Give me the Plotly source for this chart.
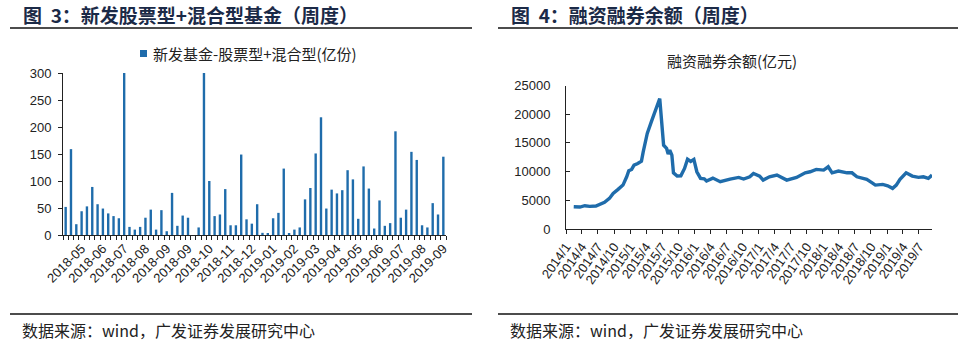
import plotly.graph_objects as go

W, H = 969, 347
BLUE = "#1F6CAB"
NAVY = "#1B2A47"
CJK = "Noto Sans CJK SC"
LAT = "Liberation Sans, Arial, sans-serif"

# ---- weekly new equity + hybrid fund issuance (亿份) ----
fund_values = [52, 159, 20, 44, 53, 89, 57, 49, 40, 35, 31, 300,
               15, 10, 15, 32, 47, 10, 46, 7, 78, 17, 36, 32,
               0, 14, 300, 100, 35, 38, 85, 18, 18, 149, 29, 21,
               57, 4, 3, 31, 41, 123, 2, 10, 14, 66, 87, 151,
               218, 49, 84, 77, 83, 120, 103, 30, 127, 86, 12, 64,
               17, 22, 192, 32, 47, 154, 139, 18, 14, 59, 38, 145]
fund_name = "新发基金-股票型+混合型(亿份)"
fund_tick_labels = ["2018-05", "2018-06", "2018-07", "2018-08", "2018-09", "2018-09",
                    "2018-10", "2018-11", "2018-12", "2019-01", "2019-02", "2019-03",
                    "2019-04", "2019-05", "2019-06", "2019-07", "2019-08", "2019-09"]
fund_tick_pos = [3 + 4 * i for i in range(len(fund_tick_labels))]

# ---- margin trading balance (亿元) ----
margin_dates = [
    "2014-02-14", "2014-03-21", "2014-04-18", "2014-05-16", "2014-06-20", "2014-07-18",
    "2014-08-08", "2014-09-05", "2014-09-26", "2014-10-24", "2014-11-21", "2014-12-12",
    "2014-12-24",
    "2015-01-09", "2015-01-23", "2015-02-13", "2015-03-06", "2015-03-16", "2015-04-08",
    "2015-05-01", "2015-05-21", "2015-06-18", "2015-07-10", "2015-07-27", "2015-08-05",
    "2015-08-14", "2015-08-26", "2015-09-04", "2015-09-25", "2015-10-16", "2015-11-06",
    "2015-11-23", "2015-12-11", "2015-12-29",
    "2016-01-15", "2016-02-05", "2016-02-26", "2016-03-10", "2016-04-15", "2016-05-27",
    "2016-07-22", "2016-09-09", "2016-10-07", "2016-11-11", "2016-12-02",
    "2017-01-06", "2017-01-26", "2017-03-03", "2017-04-14", "2017-06-09", "2017-08-04",
    "2017-09-22", "2017-10-20", "2017-11-24",
    "2018-01-05", "2018-01-31", "2018-02-22", "2018-03-30", "2018-05-18", "2018-06-15",
    "2018-07-13", "2018-09-07", "2018-10-12", "2018-10-26", "2018-12-07",
    "2019-01-04", "2019-02-01", "2019-02-22", "2019-03-15", "2019-04-19", "2019-05-24",
    "2019-06-28", "2019-07-26", "2019-08-23", "2019-09-13"]
margin_values = [
    3880, 3830, 4060, 3940, 4000, 4350, 4640, 5330, 6200, 6900, 7650, 9100, 10140,
    10380, 11130, 11420, 11820, 13440, 16640, 18660, 20400, 22730, 14600, 14030, 13040,
    13740, 12870, 9790, 9220, 9270, 10550, 12170, 11770, 12120,
    9970, 8810, 8750, 8350, 8870, 8230, 8700, 8990, 8700, 9100, 9680,
    9220, 8520, 9100, 9390, 8520, 8990, 9790, 9970, 10380,
    10260, 10840, 9790, 10090, 9790, 9790, 9100, 8640, 7950, 7650, 7770,
    7530, 7080, 7650, 8640, 9790, 9220, 8990, 9100, 8810, 9390]
margin_title = "融资融券余额(亿元)"
margin_tick_dates = [f"{y}-{m:02d}-01" for y in range(2014, 2020) for m in (1, 4, 7, 10)][:23]
margin_tick_labels = [f"{d[:4]}/{int(d[5:7])}" for d in margin_tick_dates]


def px_x(v):
    return v / W


def px_y(v):
    return 1 - v / H


fig = go.Figure()
fig.add_trace(go.Bar(
    x=list(range(len(fund_values))), y=fund_values, width=0.45,
    marker=dict(color=BLUE, line=dict(width=0)),
    name=fund_name, xaxis="x", yaxis="y", showlegend=False))
fig.add_trace(go.Scatter(
    x=margin_dates, y=margin_values, mode="lines",
    line=dict(color=BLUE, width=3.4), xaxis="x2", yaxis="y2", showlegend=False))

line_style = dict(showgrid=False, zeroline=False, showline=True, linecolor="#222",
                  linewidth=1, tickcolor="#222", tickwidth=1, automargin=False)
tick_font = dict(family=LAT, size=13, color="#222")

fig.update_layout(
    template="none",
    width=W, height=H, margin=dict(l=0, r=0, t=0, b=0, autoexpand=False),
    paper_bgcolor="white", plot_bgcolor="white", showlegend=False,
    xaxis=dict(domain=[px_x(63), px_x(446)], range=[-0.5, len(fund_values) - 0.5],
               tickmode="array", tickvals=fund_tick_pos, ticktext=fund_tick_labels,
               tickangle=-45, ticks="", anchor="y", tickfont=tick_font,
               minor=dict(ticks="outside", tick0=-0.5, dtick=1, ticklen=4,
                          tickcolor="#222", tickwidth=1, showgrid=False),
               **line_style),
    yaxis=dict(domain=[px_y(235), px_y(73)], range=[0, 300], dtick=50,
               ticks="outside", ticklen=4, ticklabelstandoff=4, anchor="x",
               tickfont=tick_font, **line_style),
    xaxis2=dict(domain=[px_x(566), px_x(932)], type="date",
                range=["2014-01-01", "2019-09-13"],
                tickmode="array", tickvals=margin_tick_dates, ticktext=margin_tick_labels,
                tickangle=-55, ticks="outside", ticklen=4, anchor="y2",
                tickfont=tick_font, **line_style),
    yaxis2=dict(domain=[px_y(229), px_y(85.5)], range=[0, 25000], dtick=5000,
                tickformat="d", ticks="inside", ticklen=4, ticklabelstandoff=12,
                anchor="x2", tickfont=tick_font, **line_style),
    bargap=0.55,
)

# legend swatch for the bar series
shapes = [dict(type="rect", xref="paper", yref="paper",
               x0=px_x(140), x1=px_x(147), y0=px_y(57), y1=px_y(50),
               fillcolor=BLUE, line=dict(width=0))]

# panel headings, rules and source notes
annotations = [
    dict(text="<b>图\u00a0\u00a03：新发股票型+混合型基金（周度）</b>", x=px_x(21), y=px_y(14),
         font=dict(family=CJK, size=19, color=NAVY)),
    dict(text="<b>图\u00a0\u00a04：融资融券余额（周度）</b>", x=px_x(509), y=px_y(14),
         font=dict(family=CJK, size=19, color=NAVY)),
    dict(text="数据来源：wind，广发证券发展研究中心", x=px_x(20), y=px_y(330),
         font=dict(family=CJK, size=16, color="#222")),
    dict(text="数据来源：wind，广发证券发展研究中心", x=px_x(508), y=px_y(330),
         font=dict(family=CJK, size=16, color="#222")),
    dict(text=fund_name, x=px_x(151), y=px_y(53.5),
         font=dict(family=CJK, size=15, color="#222")),
]
for a in annotations:
    a.update(xref="paper", yref="paper", xanchor="left", yanchor="middle", showarrow=False)
annotations.append(dict(text=margin_title, x=px_x(732), y=px_y(60),
                        xref="paper", yref="paper", xanchor="center", yanchor="middle",
                        showarrow=False, font=dict(family=CJK, size=15, color="#222")))

rules = [(10, 472, 28), (498, 958, 28), (10, 472, 314), (498, 958, 314)]
shapes += [dict(type="line", xref="paper", yref="paper", x0=px_x(a), x1=px_x(b),
                y0=px_y(y), y1=px_y(y), line=dict(color="#111", width=1.5))
           for a, b, y in rules]
fig.update_layout(annotations=annotations, shapes=shapes)

fig.write_html("out.html")
